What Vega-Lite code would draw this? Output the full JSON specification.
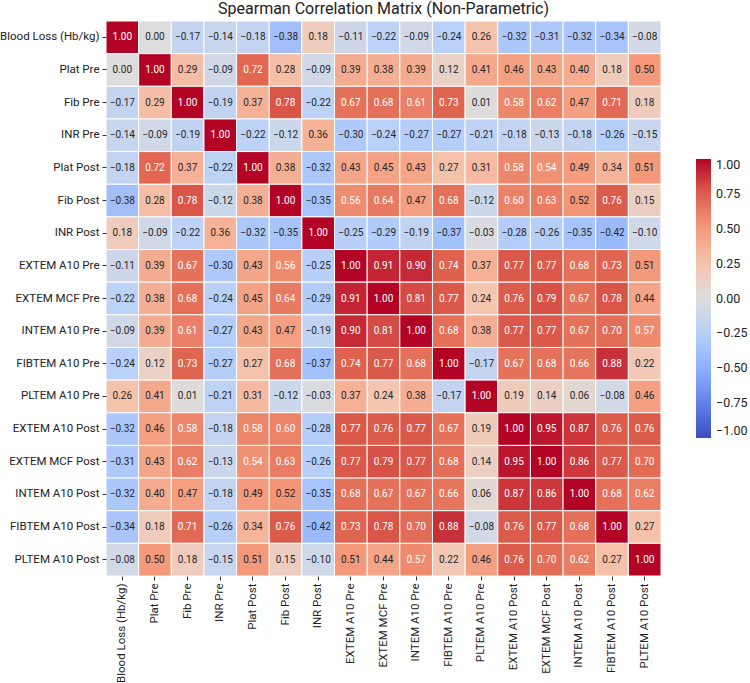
{
  "$schema": "https://vega.github.io/schema/vega-lite/v6.json",
  "autosize": {"type": "none"},
  "padding": {"left": 106, "top": 21, "right": 89, "bottom": 107},
  "width": 555,
  "height": 555,
  "background": "white",
  "title": {
    "text": "Spearman Correlation Matrix (Non-Parametric)",
    "fontSize": 16,
    "fontWeight": "normal",
    "font": "Roboto",
    "color": "#222222",
    "offset": 4,
    "anchor": "middle"
  },
  "config": {
    "view": {"stroke": null},
    "font": "Roboto"
  },
  "datasets": {
    "corr": [
      {"row":"Blood Loss (Hb/kg)","col":"Blood Loss (Hb/kg)","r":1.00},{"row":"Blood Loss (Hb/kg)","col":"Plat Pre","r":0.00},{"row":"Blood Loss (Hb/kg)","col":"Fib Pre","r":-0.17},{"row":"Blood Loss (Hb/kg)","col":"INR Pre","r":-0.14},{"row":"Blood Loss (Hb/kg)","col":"Plat Post","r":-0.18},{"row":"Blood Loss (Hb/kg)","col":"Fib Post","r":-0.38},{"row":"Blood Loss (Hb/kg)","col":"INR Post","r":0.18},{"row":"Blood Loss (Hb/kg)","col":"EXTEM A10 Pre","r":-0.11},{"row":"Blood Loss (Hb/kg)","col":"EXTEM MCF Pre","r":-0.22},{"row":"Blood Loss (Hb/kg)","col":"INTEM A10 Pre","r":-0.09},{"row":"Blood Loss (Hb/kg)","col":"FIBTEM A10 Pre","r":-0.24},{"row":"Blood Loss (Hb/kg)","col":"PLTEM A10 Pre","r":0.26},{"row":"Blood Loss (Hb/kg)","col":"EXTEM A10 Post","r":-0.32},{"row":"Blood Loss (Hb/kg)","col":"EXTEM MCF Post","r":-0.31},{"row":"Blood Loss (Hb/kg)","col":"INTEM A10 Post","r":-0.32},{"row":"Blood Loss (Hb/kg)","col":"FIBTEM A10 Post","r":-0.34},{"row":"Blood Loss (Hb/kg)","col":"PLTEM A10 Post","r":-0.08},
      {"row":"Plat Pre","col":"Blood Loss (Hb/kg)","r":0.00},{"row":"Plat Pre","col":"Plat Pre","r":1.00},{"row":"Plat Pre","col":"Fib Pre","r":0.29},{"row":"Plat Pre","col":"INR Pre","r":-0.09},{"row":"Plat Pre","col":"Plat Post","r":0.72},{"row":"Plat Pre","col":"Fib Post","r":0.28},{"row":"Plat Pre","col":"INR Post","r":-0.09},{"row":"Plat Pre","col":"EXTEM A10 Pre","r":0.39},{"row":"Plat Pre","col":"EXTEM MCF Pre","r":0.38},{"row":"Plat Pre","col":"INTEM A10 Pre","r":0.39},{"row":"Plat Pre","col":"FIBTEM A10 Pre","r":0.12},{"row":"Plat Pre","col":"PLTEM A10 Pre","r":0.41},{"row":"Plat Pre","col":"EXTEM A10 Post","r":0.46},{"row":"Plat Pre","col":"EXTEM MCF Post","r":0.43},{"row":"Plat Pre","col":"INTEM A10 Post","r":0.40},{"row":"Plat Pre","col":"FIBTEM A10 Post","r":0.18},{"row":"Plat Pre","col":"PLTEM A10 Post","r":0.50},
      {"row":"Fib Pre","col":"Blood Loss (Hb/kg)","r":-0.17},{"row":"Fib Pre","col":"Plat Pre","r":0.29},{"row":"Fib Pre","col":"Fib Pre","r":1.00},{"row":"Fib Pre","col":"INR Pre","r":-0.19},{"row":"Fib Pre","col":"Plat Post","r":0.37},{"row":"Fib Pre","col":"Fib Post","r":0.78},{"row":"Fib Pre","col":"INR Post","r":-0.22},{"row":"Fib Pre","col":"EXTEM A10 Pre","r":0.67},{"row":"Fib Pre","col":"EXTEM MCF Pre","r":0.68},{"row":"Fib Pre","col":"INTEM A10 Pre","r":0.61},{"row":"Fib Pre","col":"FIBTEM A10 Pre","r":0.73},{"row":"Fib Pre","col":"PLTEM A10 Pre","r":0.01},{"row":"Fib Pre","col":"EXTEM A10 Post","r":0.58},{"row":"Fib Pre","col":"EXTEM MCF Post","r":0.62},{"row":"Fib Pre","col":"INTEM A10 Post","r":0.47},{"row":"Fib Pre","col":"FIBTEM A10 Post","r":0.71},{"row":"Fib Pre","col":"PLTEM A10 Post","r":0.18},
      {"row":"INR Pre","col":"Blood Loss (Hb/kg)","r":-0.14},{"row":"INR Pre","col":"Plat Pre","r":-0.09},{"row":"INR Pre","col":"Fib Pre","r":-0.19},{"row":"INR Pre","col":"INR Pre","r":1.00},{"row":"INR Pre","col":"Plat Post","r":-0.22},{"row":"INR Pre","col":"Fib Post","r":-0.12},{"row":"INR Pre","col":"INR Post","r":0.36},{"row":"INR Pre","col":"EXTEM A10 Pre","r":-0.30},{"row":"INR Pre","col":"EXTEM MCF Pre","r":-0.24},{"row":"INR Pre","col":"INTEM A10 Pre","r":-0.27},{"row":"INR Pre","col":"FIBTEM A10 Pre","r":-0.27},{"row":"INR Pre","col":"PLTEM A10 Pre","r":-0.21},{"row":"INR Pre","col":"EXTEM A10 Post","r":-0.18},{"row":"INR Pre","col":"EXTEM MCF Post","r":-0.13},{"row":"INR Pre","col":"INTEM A10 Post","r":-0.18},{"row":"INR Pre","col":"FIBTEM A10 Post","r":-0.26},{"row":"INR Pre","col":"PLTEM A10 Post","r":-0.15},
      {"row":"Plat Post","col":"Blood Loss (Hb/kg)","r":-0.18},{"row":"Plat Post","col":"Plat Pre","r":0.72},{"row":"Plat Post","col":"Fib Pre","r":0.37},{"row":"Plat Post","col":"INR Pre","r":-0.22},{"row":"Plat Post","col":"Plat Post","r":1.00},{"row":"Plat Post","col":"Fib Post","r":0.38},{"row":"Plat Post","col":"INR Post","r":-0.32},{"row":"Plat Post","col":"EXTEM A10 Pre","r":0.43},{"row":"Plat Post","col":"EXTEM MCF Pre","r":0.45},{"row":"Plat Post","col":"INTEM A10 Pre","r":0.43},{"row":"Plat Post","col":"FIBTEM A10 Pre","r":0.27},{"row":"Plat Post","col":"PLTEM A10 Pre","r":0.31},{"row":"Plat Post","col":"EXTEM A10 Post","r":0.58},{"row":"Plat Post","col":"EXTEM MCF Post","r":0.54},{"row":"Plat Post","col":"INTEM A10 Post","r":0.49},{"row":"Plat Post","col":"FIBTEM A10 Post","r":0.34},{"row":"Plat Post","col":"PLTEM A10 Post","r":0.51},
      {"row":"Fib Post","col":"Blood Loss (Hb/kg)","r":-0.38},{"row":"Fib Post","col":"Plat Pre","r":0.28},{"row":"Fib Post","col":"Fib Pre","r":0.78},{"row":"Fib Post","col":"INR Pre","r":-0.12},{"row":"Fib Post","col":"Plat Post","r":0.38},{"row":"Fib Post","col":"Fib Post","r":1.00},{"row":"Fib Post","col":"INR Post","r":-0.35},{"row":"Fib Post","col":"EXTEM A10 Pre","r":0.56},{"row":"Fib Post","col":"EXTEM MCF Pre","r":0.64},{"row":"Fib Post","col":"INTEM A10 Pre","r":0.47},{"row":"Fib Post","col":"FIBTEM A10 Pre","r":0.68},{"row":"Fib Post","col":"PLTEM A10 Pre","r":-0.12},{"row":"Fib Post","col":"EXTEM A10 Post","r":0.60},{"row":"Fib Post","col":"EXTEM MCF Post","r":0.63},{"row":"Fib Post","col":"INTEM A10 Post","r":0.52},{"row":"Fib Post","col":"FIBTEM A10 Post","r":0.76},{"row":"Fib Post","col":"PLTEM A10 Post","r":0.15},
      {"row":"INR Post","col":"Blood Loss (Hb/kg)","r":0.18},{"row":"INR Post","col":"Plat Pre","r":-0.09},{"row":"INR Post","col":"Fib Pre","r":-0.22},{"row":"INR Post","col":"INR Pre","r":0.36},{"row":"INR Post","col":"Plat Post","r":-0.32},{"row":"INR Post","col":"Fib Post","r":-0.35},{"row":"INR Post","col":"INR Post","r":1.00},{"row":"INR Post","col":"EXTEM A10 Pre","r":-0.25},{"row":"INR Post","col":"EXTEM MCF Pre","r":-0.29},{"row":"INR Post","col":"INTEM A10 Pre","r":-0.19},{"row":"INR Post","col":"FIBTEM A10 Pre","r":-0.37},{"row":"INR Post","col":"PLTEM A10 Pre","r":-0.03},{"row":"INR Post","col":"EXTEM A10 Post","r":-0.28},{"row":"INR Post","col":"EXTEM MCF Post","r":-0.26},{"row":"INR Post","col":"INTEM A10 Post","r":-0.35},{"row":"INR Post","col":"FIBTEM A10 Post","r":-0.42},{"row":"INR Post","col":"PLTEM A10 Post","r":-0.10},
      {"row":"EXTEM A10 Pre","col":"Blood Loss (Hb/kg)","r":-0.11},{"row":"EXTEM A10 Pre","col":"Plat Pre","r":0.39},{"row":"EXTEM A10 Pre","col":"Fib Pre","r":0.67},{"row":"EXTEM A10 Pre","col":"INR Pre","r":-0.30},{"row":"EXTEM A10 Pre","col":"Plat Post","r":0.43},{"row":"EXTEM A10 Pre","col":"Fib Post","r":0.56},{"row":"EXTEM A10 Pre","col":"INR Post","r":-0.25},{"row":"EXTEM A10 Pre","col":"EXTEM A10 Pre","r":1.00},{"row":"EXTEM A10 Pre","col":"EXTEM MCF Pre","r":0.91},{"row":"EXTEM A10 Pre","col":"INTEM A10 Pre","r":0.90},{"row":"EXTEM A10 Pre","col":"FIBTEM A10 Pre","r":0.74},{"row":"EXTEM A10 Pre","col":"PLTEM A10 Pre","r":0.37},{"row":"EXTEM A10 Pre","col":"EXTEM A10 Post","r":0.77},{"row":"EXTEM A10 Pre","col":"EXTEM MCF Post","r":0.77},{"row":"EXTEM A10 Pre","col":"INTEM A10 Post","r":0.68},{"row":"EXTEM A10 Pre","col":"FIBTEM A10 Post","r":0.73},{"row":"EXTEM A10 Pre","col":"PLTEM A10 Post","r":0.51},
      {"row":"EXTEM MCF Pre","col":"Blood Loss (Hb/kg)","r":-0.22},{"row":"EXTEM MCF Pre","col":"Plat Pre","r":0.38},{"row":"EXTEM MCF Pre","col":"Fib Pre","r":0.68},{"row":"EXTEM MCF Pre","col":"INR Pre","r":-0.24},{"row":"EXTEM MCF Pre","col":"Plat Post","r":0.45},{"row":"EXTEM MCF Pre","col":"Fib Post","r":0.64},{"row":"EXTEM MCF Pre","col":"INR Post","r":-0.29},{"row":"EXTEM MCF Pre","col":"EXTEM A10 Pre","r":0.91},{"row":"EXTEM MCF Pre","col":"EXTEM MCF Pre","r":1.00},{"row":"EXTEM MCF Pre","col":"INTEM A10 Pre","r":0.81},{"row":"EXTEM MCF Pre","col":"FIBTEM A10 Pre","r":0.77},{"row":"EXTEM MCF Pre","col":"PLTEM A10 Pre","r":0.24},{"row":"EXTEM MCF Pre","col":"EXTEM A10 Post","r":0.76},{"row":"EXTEM MCF Pre","col":"EXTEM MCF Post","r":0.79},{"row":"EXTEM MCF Pre","col":"INTEM A10 Post","r":0.67},{"row":"EXTEM MCF Pre","col":"FIBTEM A10 Post","r":0.78},{"row":"EXTEM MCF Pre","col":"PLTEM A10 Post","r":0.44},
      {"row":"INTEM A10 Pre","col":"Blood Loss (Hb/kg)","r":-0.09},{"row":"INTEM A10 Pre","col":"Plat Pre","r":0.39},{"row":"INTEM A10 Pre","col":"Fib Pre","r":0.61},{"row":"INTEM A10 Pre","col":"INR Pre","r":-0.27},{"row":"INTEM A10 Pre","col":"Plat Post","r":0.43},{"row":"INTEM A10 Pre","col":"Fib Post","r":0.47},{"row":"INTEM A10 Pre","col":"INR Post","r":-0.19},{"row":"INTEM A10 Pre","col":"EXTEM A10 Pre","r":0.90},{"row":"INTEM A10 Pre","col":"EXTEM MCF Pre","r":0.81},{"row":"INTEM A10 Pre","col":"INTEM A10 Pre","r":1.00},{"row":"INTEM A10 Pre","col":"FIBTEM A10 Pre","r":0.68},{"row":"INTEM A10 Pre","col":"PLTEM A10 Pre","r":0.38},{"row":"INTEM A10 Pre","col":"EXTEM A10 Post","r":0.77},{"row":"INTEM A10 Pre","col":"EXTEM MCF Post","r":0.77},{"row":"INTEM A10 Pre","col":"INTEM A10 Post","r":0.67},{"row":"INTEM A10 Pre","col":"FIBTEM A10 Post","r":0.70},{"row":"INTEM A10 Pre","col":"PLTEM A10 Post","r":0.57},
      {"row":"FIBTEM A10 Pre","col":"Blood Loss (Hb/kg)","r":-0.24},{"row":"FIBTEM A10 Pre","col":"Plat Pre","r":0.12},{"row":"FIBTEM A10 Pre","col":"Fib Pre","r":0.73},{"row":"FIBTEM A10 Pre","col":"INR Pre","r":-0.27},{"row":"FIBTEM A10 Pre","col":"Plat Post","r":0.27},{"row":"FIBTEM A10 Pre","col":"Fib Post","r":0.68},{"row":"FIBTEM A10 Pre","col":"INR Post","r":-0.37},{"row":"FIBTEM A10 Pre","col":"EXTEM A10 Pre","r":0.74},{"row":"FIBTEM A10 Pre","col":"EXTEM MCF Pre","r":0.77},{"row":"FIBTEM A10 Pre","col":"INTEM A10 Pre","r":0.68},{"row":"FIBTEM A10 Pre","col":"FIBTEM A10 Pre","r":1.00},{"row":"FIBTEM A10 Pre","col":"PLTEM A10 Pre","r":-0.17},{"row":"FIBTEM A10 Pre","col":"EXTEM A10 Post","r":0.67},{"row":"FIBTEM A10 Pre","col":"EXTEM MCF Post","r":0.68},{"row":"FIBTEM A10 Pre","col":"INTEM A10 Post","r":0.66},{"row":"FIBTEM A10 Pre","col":"FIBTEM A10 Post","r":0.88},{"row":"FIBTEM A10 Pre","col":"PLTEM A10 Post","r":0.22},
      {"row":"PLTEM A10 Pre","col":"Blood Loss (Hb/kg)","r":0.26},{"row":"PLTEM A10 Pre","col":"Plat Pre","r":0.41},{"row":"PLTEM A10 Pre","col":"Fib Pre","r":0.01},{"row":"PLTEM A10 Pre","col":"INR Pre","r":-0.21},{"row":"PLTEM A10 Pre","col":"Plat Post","r":0.31},{"row":"PLTEM A10 Pre","col":"Fib Post","r":-0.12},{"row":"PLTEM A10 Pre","col":"INR Post","r":-0.03},{"row":"PLTEM A10 Pre","col":"EXTEM A10 Pre","r":0.37},{"row":"PLTEM A10 Pre","col":"EXTEM MCF Pre","r":0.24},{"row":"PLTEM A10 Pre","col":"INTEM A10 Pre","r":0.38},{"row":"PLTEM A10 Pre","col":"FIBTEM A10 Pre","r":-0.17},{"row":"PLTEM A10 Pre","col":"PLTEM A10 Pre","r":1.00},{"row":"PLTEM A10 Pre","col":"EXTEM A10 Post","r":0.19},{"row":"PLTEM A10 Pre","col":"EXTEM MCF Post","r":0.14},{"row":"PLTEM A10 Pre","col":"INTEM A10 Post","r":0.06},{"row":"PLTEM A10 Pre","col":"FIBTEM A10 Post","r":-0.08},{"row":"PLTEM A10 Pre","col":"PLTEM A10 Post","r":0.46},
      {"row":"EXTEM A10 Post","col":"Blood Loss (Hb/kg)","r":-0.32},{"row":"EXTEM A10 Post","col":"Plat Pre","r":0.46},{"row":"EXTEM A10 Post","col":"Fib Pre","r":0.58},{"row":"EXTEM A10 Post","col":"INR Pre","r":-0.18},{"row":"EXTEM A10 Post","col":"Plat Post","r":0.58},{"row":"EXTEM A10 Post","col":"Fib Post","r":0.60},{"row":"EXTEM A10 Post","col":"INR Post","r":-0.28},{"row":"EXTEM A10 Post","col":"EXTEM A10 Pre","r":0.77},{"row":"EXTEM A10 Post","col":"EXTEM MCF Pre","r":0.76},{"row":"EXTEM A10 Post","col":"INTEM A10 Pre","r":0.77},{"row":"EXTEM A10 Post","col":"FIBTEM A10 Pre","r":0.67},{"row":"EXTEM A10 Post","col":"PLTEM A10 Pre","r":0.19},{"row":"EXTEM A10 Post","col":"EXTEM A10 Post","r":1.00},{"row":"EXTEM A10 Post","col":"EXTEM MCF Post","r":0.95},{"row":"EXTEM A10 Post","col":"INTEM A10 Post","r":0.87},{"row":"EXTEM A10 Post","col":"FIBTEM A10 Post","r":0.76},{"row":"EXTEM A10 Post","col":"PLTEM A10 Post","r":0.76},
      {"row":"EXTEM MCF Post","col":"Blood Loss (Hb/kg)","r":-0.31},{"row":"EXTEM MCF Post","col":"Plat Pre","r":0.43},{"row":"EXTEM MCF Post","col":"Fib Pre","r":0.62},{"row":"EXTEM MCF Post","col":"INR Pre","r":-0.13},{"row":"EXTEM MCF Post","col":"Plat Post","r":0.54},{"row":"EXTEM MCF Post","col":"Fib Post","r":0.63},{"row":"EXTEM MCF Post","col":"INR Post","r":-0.26},{"row":"EXTEM MCF Post","col":"EXTEM A10 Pre","r":0.77},{"row":"EXTEM MCF Post","col":"EXTEM MCF Pre","r":0.79},{"row":"EXTEM MCF Post","col":"INTEM A10 Pre","r":0.77},{"row":"EXTEM MCF Post","col":"FIBTEM A10 Pre","r":0.68},{"row":"EXTEM MCF Post","col":"PLTEM A10 Pre","r":0.14},{"row":"EXTEM MCF Post","col":"EXTEM A10 Post","r":0.95},{"row":"EXTEM MCF Post","col":"EXTEM MCF Post","r":1.00},{"row":"EXTEM MCF Post","col":"INTEM A10 Post","r":0.86},{"row":"EXTEM MCF Post","col":"FIBTEM A10 Post","r":0.77},{"row":"EXTEM MCF Post","col":"PLTEM A10 Post","r":0.70},
      {"row":"INTEM A10 Post","col":"Blood Loss (Hb/kg)","r":-0.32},{"row":"INTEM A10 Post","col":"Plat Pre","r":0.40},{"row":"INTEM A10 Post","col":"Fib Pre","r":0.47},{"row":"INTEM A10 Post","col":"INR Pre","r":-0.18},{"row":"INTEM A10 Post","col":"Plat Post","r":0.49},{"row":"INTEM A10 Post","col":"Fib Post","r":0.52},{"row":"INTEM A10 Post","col":"INR Post","r":-0.35},{"row":"INTEM A10 Post","col":"EXTEM A10 Pre","r":0.68},{"row":"INTEM A10 Post","col":"EXTEM MCF Pre","r":0.67},{"row":"INTEM A10 Post","col":"INTEM A10 Pre","r":0.67},{"row":"INTEM A10 Post","col":"FIBTEM A10 Pre","r":0.66},{"row":"INTEM A10 Post","col":"PLTEM A10 Pre","r":0.06},{"row":"INTEM A10 Post","col":"EXTEM A10 Post","r":0.87},{"row":"INTEM A10 Post","col":"EXTEM MCF Post","r":0.86},{"row":"INTEM A10 Post","col":"INTEM A10 Post","r":1.00},{"row":"INTEM A10 Post","col":"FIBTEM A10 Post","r":0.68},{"row":"INTEM A10 Post","col":"PLTEM A10 Post","r":0.62},
      {"row":"FIBTEM A10 Post","col":"Blood Loss (Hb/kg)","r":-0.34},{"row":"FIBTEM A10 Post","col":"Plat Pre","r":0.18},{"row":"FIBTEM A10 Post","col":"Fib Pre","r":0.71},{"row":"FIBTEM A10 Post","col":"INR Pre","r":-0.26},{"row":"FIBTEM A10 Post","col":"Plat Post","r":0.34},{"row":"FIBTEM A10 Post","col":"Fib Post","r":0.76},{"row":"FIBTEM A10 Post","col":"INR Post","r":-0.42},{"row":"FIBTEM A10 Post","col":"EXTEM A10 Pre","r":0.73},{"row":"FIBTEM A10 Post","col":"EXTEM MCF Pre","r":0.78},{"row":"FIBTEM A10 Post","col":"INTEM A10 Pre","r":0.70},{"row":"FIBTEM A10 Post","col":"FIBTEM A10 Pre","r":0.88},{"row":"FIBTEM A10 Post","col":"PLTEM A10 Pre","r":-0.08},{"row":"FIBTEM A10 Post","col":"EXTEM A10 Post","r":0.76},{"row":"FIBTEM A10 Post","col":"EXTEM MCF Post","r":0.77},{"row":"FIBTEM A10 Post","col":"INTEM A10 Post","r":0.68},{"row":"FIBTEM A10 Post","col":"FIBTEM A10 Post","r":1.00},{"row":"FIBTEM A10 Post","col":"PLTEM A10 Post","r":0.27},
      {"row":"PLTEM A10 Post","col":"Blood Loss (Hb/kg)","r":-0.08},{"row":"PLTEM A10 Post","col":"Plat Pre","r":0.50},{"row":"PLTEM A10 Post","col":"Fib Pre","r":0.18},{"row":"PLTEM A10 Post","col":"INR Pre","r":-0.15},{"row":"PLTEM A10 Post","col":"Plat Post","r":0.51},{"row":"PLTEM A10 Post","col":"Fib Post","r":0.15},{"row":"PLTEM A10 Post","col":"INR Post","r":-0.10},{"row":"PLTEM A10 Post","col":"EXTEM A10 Pre","r":0.51},{"row":"PLTEM A10 Post","col":"EXTEM MCF Pre","r":0.44},{"row":"PLTEM A10 Post","col":"INTEM A10 Pre","r":0.57},{"row":"PLTEM A10 Post","col":"FIBTEM A10 Pre","r":0.22},{"row":"PLTEM A10 Post","col":"PLTEM A10 Pre","r":0.46},{"row":"PLTEM A10 Post","col":"EXTEM A10 Post","r":0.76},{"row":"PLTEM A10 Post","col":"EXTEM MCF Post","r":0.70},{"row":"PLTEM A10 Post","col":"INTEM A10 Post","r":0.62},{"row":"PLTEM A10 Post","col":"FIBTEM A10 Post","r":0.27},{"row":"PLTEM A10 Post","col":"PLTEM A10 Post","r":1.00}
    ]
  },
  "data": {"name": "corr"},
  "encoding": {
    "x": {
      "field": "col",
      "type": "nominal",
      "sort": ["Blood Loss (Hb/kg)","Plat Pre","Fib Pre","INR Pre","Plat Post","Fib Post","INR Post","EXTEM A10 Pre","EXTEM MCF Pre","INTEM A10 Pre","FIBTEM A10 Pre","PLTEM A10 Pre","EXTEM A10 Post","EXTEM MCF Post","INTEM A10 Post","FIBTEM A10 Post","PLTEM A10 Post"],
      "scale": {"paddingInner": 0, "paddingOuter": 0},
      "axis": {
        "title": null,
        "domain": false,
        "labelAngle": -90,
        "labelAlign": "right",
        "labelBaseline": "middle",
        "labelFontSize": 11.5,
        "labelColor": "#222222",
        "labelPadding": 3,
        "tickSize": 4,
        "tickColor": "#333333",
        "labelFont": "Roboto"
      }
    },
    "y": {
      "field": "row",
      "type": "nominal",
      "sort": ["Blood Loss (Hb/kg)","Plat Pre","Fib Pre","INR Pre","Plat Post","Fib Post","INR Post","EXTEM A10 Pre","EXTEM MCF Pre","INTEM A10 Pre","FIBTEM A10 Pre","PLTEM A10 Pre","EXTEM A10 Post","EXTEM MCF Post","INTEM A10 Post","FIBTEM A10 Post","PLTEM A10 Post"],
      "scale": {"paddingInner": 0, "paddingOuter": 0},
      "axis": {
        "title": null,
        "domain": false,
        "labelFontSize": 11.5,
        "labelColor": "#222222",
        "labelPadding": 3,
        "tickSize": 4,
        "tickColor": "#333333",
        "labelFont": "Roboto"
      }
    }
  },
  "layer": [
    {
      "mark": {"type": "rect", "stroke": "white", "strokeWidth": 1},
      "encoding": {
        "color": {
          "field": "r",
          "type": "quantitative",
          "scale": {
            "domain": [-1, -0.75, -0.5, -0.25, 0, 0.25, 0.5, 0.75, 1],
            "range": ["#3b4cc0", "#6282ea", "#8db0fe", "#b8d0f9", "#dddddd", "#f5c4ad", "#f49a7b", "#de604d", "#b40426"],
            "interpolate": "rgb"
          },
          "legend": {
            "title": null,
            "orient": "none",
            "legendX": 590,
            "legendY": 138,
            "direction": "vertical",
            "gradientLength": 279,
            "gradientThickness": 15,
            "gradientStrokeWidth": 0,
            "values": [-1, -0.75, -0.5, -0.25, 0, 0.25, 0.5, 0.75, 1],
            "format": ".2f",
            "labelFontSize": 12.5,
            "labelColor": "#222222",
            "labelOffset": 5,
            "labelOverlap": false,
            "labelFont": "Roboto"
          }
        }
      }
    },
    {
      "mark": {"type": "text", "fontSize": 10, "font": "Roboto"},
      "encoding": {
        "text": {"field": "r", "type": "quantitative", "format": ".2f"},
        "color": {
          "condition": {"test": "datum.r > 0.535", "value": "white"},
          "value": "#262626"
        }
      }
    }
  ]
}
